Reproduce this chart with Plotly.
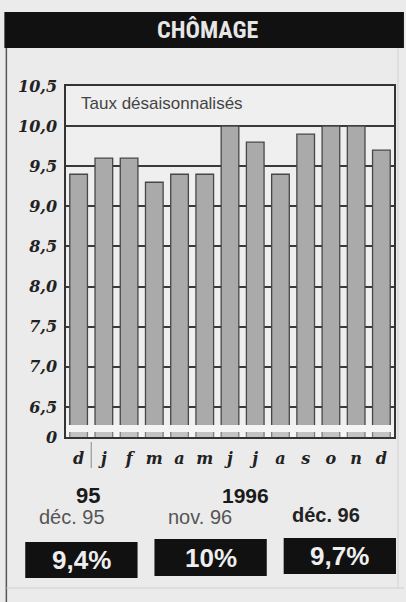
import plotly.graph_objects as go

# ---- data ----
months = ["déc. 95", "janv. 96", "févr. 96", "mars 96", "avr. 96", "mai 96", "juin 96",
          "juil. 96", "août 96", "sept. 96", "oct. 96", "nov. 96", "déc. 96"]
month_letters = ["d", "j", "f", "m", "a", "m", "j", "j", "a", "s", "o", "n", "d"]
rates = [9.4, 9.6, 9.6, 9.3, 9.4, 9.4, 10.0, 9.8, 9.4, 9.9, 10.0, 10.0, 9.7]
y_tickvals = [6.125, 6.5, 7.0, 7.5, 8.0, 8.5, 9.0, 9.5, 10.0, 10.5]
y_ticktext = ["0", "6,5", "7,0", "7,5", "8,0", "8,5", "9,0", "9,5", "10,0", "10,5"]
box_labels = ["déc. 95", "nov. 96", "déc. 96"]
box_values = ["9,4%", "10%", "9,7%"]

# ---- geometry helpers (pixel -> paper) ----
L, R, T, B = 66, 396, 86, 437
W, H = 406, 602
def PX(x):
    return (x - L) / (R - L)
def PY(y):
    return (B - y) / (B - T)

BG = "#ebebeb"
fig = go.Figure()
fig.add_trace(go.Bar(
    x=months, y=rates,
    marker=dict(color="#aaaaaa", line=dict(color="#474747", width=1.3)),
    hoverinfo="x+y",
))

serif = dict(family="DejaVu Serif", size=16, color="#222", weight="bold", style="italic")

fig.update_layout(
    width=W, height=H, autosize=False,
    margin=dict(l=L, r=W - R, t=T, b=H - B, pad=0),
    paper_bgcolor=BG, plot_bgcolor="#efefef",
    bargap=0.3, showlegend=False,
    xaxis=dict(type="category", tickvals=months, ticktext=month_letters,
               tickfont=serif, showgrid=False, showline=True, mirror=True,
               linecolor="#333", linewidth=1.5, ticks="", ticklabelstandoff=6,
               fixedrange=True),
    yaxis=dict(range=[6.125, 10.5], tickvals=y_tickvals, ticktext=y_ticktext,
               tickfont=serif, showgrid=True, gridcolor="#3a3a3a", gridwidth=1.5,
               showline=True, mirror=True, linecolor="#333", linewidth=1.5,
               ticks="", ticklabelstandoff=4, zeroline=False, fixedrange=True),
)

shapes = []
# axis break strip
shapes.append(dict(type="rect", xref="paper", yref="y", x0=0, x1=1, y0=6.1875, y1=6.275,
                   fillcolor="#f4f4f4", line=dict(width=0), layer="above"))
shapes.append(dict(type="rect", xref="paper", yref="y", x0=0, x1=1, y0=6.125, y1=6.1875,
                   fillcolor="rgba(255,255,255,0.3)", line=dict(width=0), layer="above"))
# title bar
shapes.append(dict(type="rect", xref="paper", yref="paper", x0=PX(4), x1=PX(406),
                   y0=PY(48), y1=PY(12), fillcolor="#111", line=dict(width=0)))
# outer frame lines
shapes.append(dict(type="line", xref="paper", yref="paper", x0=PX(6), x1=PX(6),
                   y0=PY(48), y1=PY(602), line=dict(color="#555", width=1.5)))
shapes.append(dict(type="line", xref="paper", yref="paper", x0=PX(400), x1=PX(400),
                   y0=PY(48), y1=PY(588), line=dict(color="#d0d0d0", width=1)))
shapes.append(dict(type="line", xref="paper", yref="paper", x0=PX(6), x1=PX(406),
                   y0=PY(588), y1=PY(588), line=dict(color="#d0d0d0", width=1)))
# year separator between d and j
shapes.append(dict(type="line", xref="x", yref="paper", x0=0.5, x1=0.5,
                   y0=PY(442), y1=PY(468), line=dict(color="#888", width=1)))
# value boxes
box_x = [(25, 138, 542, 578), (155, 268, 539, 576), (285, 398, 538, 574)]
for (x0, x1, y0, y1) in box_x:
    shapes.append(dict(type="rect", xref="paper", yref="paper", x0=PX(x0), x1=PX(x1),
                       y0=PY(y1), y1=PY(y0), fillcolor="#111", line=dict(width=0)))
fig.update_layout(shapes=shapes)

ann = []
def A(text, x, y, size, color, bold=False, family="Liberation Sans", xanchor="center"):
    ann.append(dict(text=text, x=PX(x), y=PY(y), xref="paper", yref="paper",
                    showarrow=False, xanchor=xanchor, yanchor="middle",
                    font=dict(family=family, size=size, color=color,
                              weight="bold" if bold else "normal")))

A("CHÔMAGE", 208, 30, 24, "#e6e6e6", bold=True,
  family="Liberation Sans Narrow, Roboto Condensed, Liberation Sans")
A("Taux désaisonnalisés", 79, 103, 17, "#444", xanchor="left")
A("95", 88, 495, 22, "#1a1a1a", bold=True)
A("1996", 247, 495, 21, "#1a1a1a", bold=True)
A(box_labels[0], 72, 517, 20, "#555")
A(box_labels[1], 201, 517, 20, "#555")
A(box_labels[2], 328, 515, 20, "#222", bold=True)
for (x0, x1, y0, y1), v in zip(box_x, box_values):
    A(v, (x0 + x1) / 2, (y0 + y1) / 2, 26, "#eeeeee", bold=True)
fig.update_layout(annotations=ann)

fig.write_html(
    "out.html",
    config={"displayModeBar": False},
    post_script="document.body.style.margin='0';document.body.style.overflow='hidden';"
                "document.body.style.background='" + BG + "';",
)
